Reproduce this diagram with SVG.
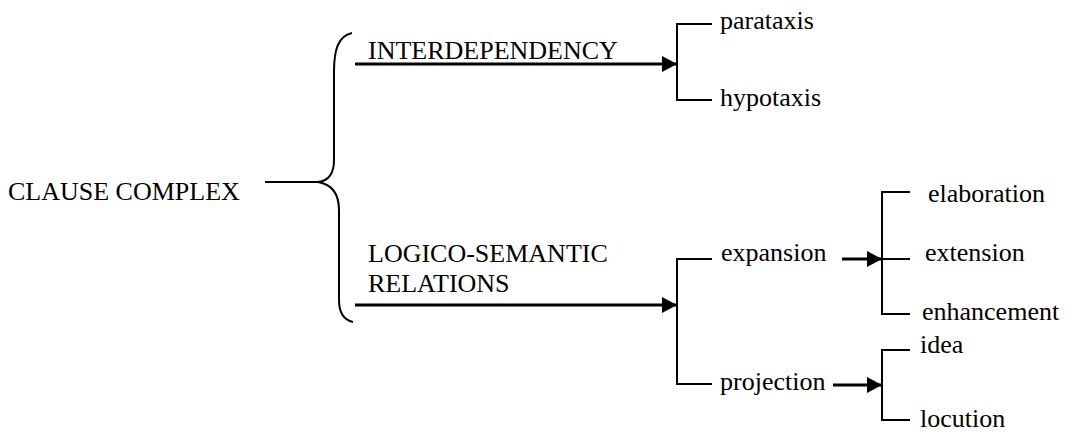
<svg xmlns="http://www.w3.org/2000/svg" width="1066" height="432" viewBox="0 0 1066 432">
<style>
.t{font-family:'Liberation Serif','Times New Roman',Times,serif;font-size:26px;fill:#000}
.ln{stroke:#000;stroke-width:2;fill:none}
.ar{stroke:#000;stroke-width:3;fill:none}
</style>
<defs>
<marker id="ah" markerUnits="userSpaceOnUse" markerWidth="16" markerHeight="16" refX="15" refY="8" orient="auto">
<path d="M0,0 L15,8 L0,16 Z" fill="#000"/>
</marker>
</defs>
<rect width="1066" height="432" fill="#fff"/>
<g id="connectors">
<path class="ln" d="M265,182 H318"/>
<path class="ln" d="M352,33 C338,36 334,50 334,72 L334,160 C334,175 328,181 318,182 C330,184 339,192 339,210 L339,300 C339,312 344,320 353,322"/>
<path class="ar" d="M355,64 H677" marker-end="url(#ah)"/>
<path class="ln" d="M712,24 H677 V100 H712"/>
<path class="ar" d="M355,305 H677" marker-end="url(#ah)"/>
<path class="ln" d="M712,259 H677 V384 H712"/>
<path class="ar" d="M842,259 H882" marker-end="url(#ah)"/>
<path class="ln" d="M910,192 H882 V314 H910 M882,259 H910"/>
<path class="ar" d="M833,385 H882" marker-end="url(#ah)"/>
<path class="ln" d="M910,350 H882 V420 H910"/>
</g>
<g class="t" font-family="Liberation Serif, serif" font-size="26">
<g id="clause-complex"><text x="8" y="200">CLAUSE COMPLEX</text></g>
<g id="interdependency"><text x="368" y="59">INTERDEPENDENCY</text></g>
<g id="parataxis"><text x="720" y="29">parataxis</text></g>
<g id="hypotaxis"><text x="720" y="106">hypotaxis</text></g>
<g id="logico-semantic"><text x="368" y="262">LOGICO-SEMANTIC</text><text x="368" y="292">RELATIONS</text></g>
<g id="expansion"><text x="721" y="261">expansion</text></g>
<g id="projection"><text x="720" y="390">projection</text></g>
<g id="elaboration"><text x="928" y="202">elaboration</text></g>
<g id="extension"><text x="925" y="261">extension</text></g>
<g id="enhancement"><text x="922" y="320">enhancement</text></g>
<g id="idea"><text x="920" y="353">idea</text></g>
<g id="locution"><text x="920" y="427">locution</text></g>
</g>
</svg>
